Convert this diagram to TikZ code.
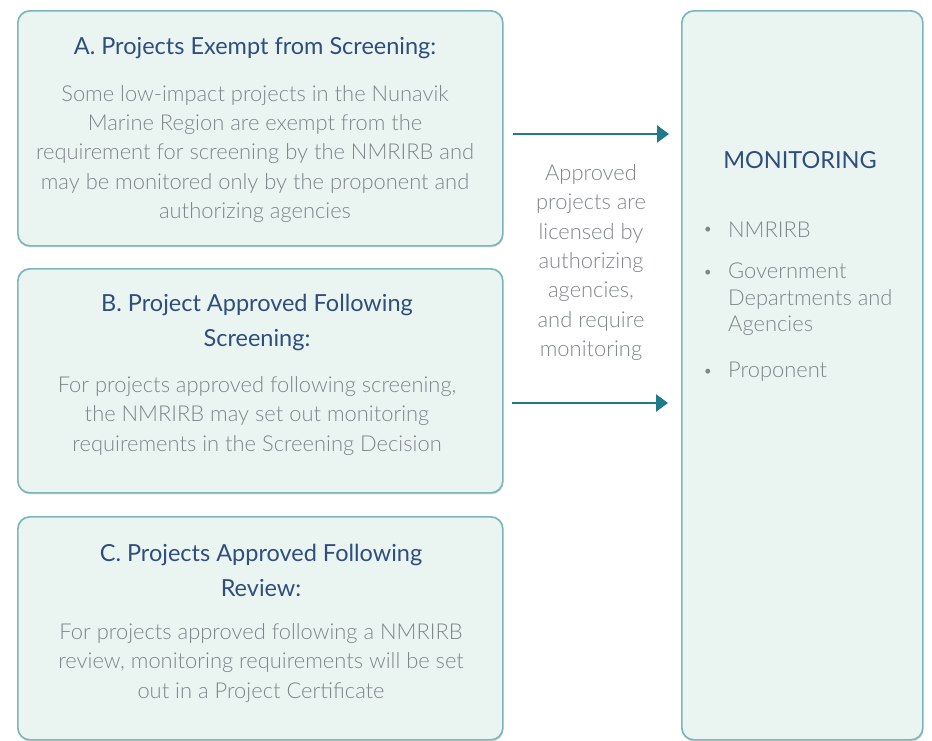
\documentclass[tikz,border=0pt]{standalone}
\usepackage{fontspec}
\setmainfont{Lato}
\newfontfamily\lightfont{Lato Light}
\usetikzlibrary{arrows.meta,shadows}
\definecolor{boxfill}{HTML}{EAF5F2}
\definecolor{boxline}{HTML}{7DB7B9}
\definecolor{headblue}{HTML}{2F4E7E}
\definecolor{bodygray}{HTML}{7F8589}
\definecolor{arrowteal}{HTML}{1F7A8A}
\tikzset{
  box/.style={draw=boxline,fill=boxfill,line width=1.7pt,rounded corners=12pt,anchor=north west,inner sep=0pt,
    drop shadow={opacity=0.3,shadow xshift=0.6pt,shadow yshift=-1.6pt}},
  head/.style={text=headblue,align=center,font=\fontsize{23.5}{35}\selectfont},
  body/.style={text=bodygray,align=center,font=\lightfont\fontsize{21.9}{29.3}\selectfont},
  item/.style={text=bodygray,align=left,anchor=west,inner sep=0pt,font=\lightfont\fontsize{21.9}{26.5}\selectfont},
  dot/.style={text=bodygray,font=\fontsize{13}{13}\selectfont},
  flow/.style={draw=arrowteal,line width=2.4pt,-{Triangle[length=12pt,width=17pt]}}
}
\begin{document}
\begin{tikzpicture}[x=1pt,y=-1pt]
	\useasboundingbox (0,0) rectangle (932,740);
	\node[box,minimum width=485pt,minimum height=235pt] (boxA) at (17,10) {};
	\node[box,minimum width=485pt,minimum height=224pt] (boxB) at (17,268) {};
	\node[box,minimum width=485pt,minimum height=223pt] (boxC) at (17,516) {};
	\node[box,minimum width=241pt,minimum height=729pt] (monitor) at (681,10) {};
	\node[head] (headA) at (255,48) {A. Projects Exempt from Screening:};
	\node[body] (textA) at (255,154) {Some low-impact projects in the Nunavik\\Marine Region are exempt from the\\requirement for screening by the NMRIRB and\\may be monitored only by the proponent and\\authorizing agencies};
	\node[head] (headB) at (257,322.5) {B. Project Approved Following\\Screening:};
	\node[body] (textB) at (257,416) {For projects approved following screening,\\the NMRIRB may set out monitoring\\requirements in the Screening Decision};
	\node[head] (headC) at (261,570) {C. Projects Approved Following\\Review:};
	\node[body] (textC) at (261,663) {For projects approved following a NMRIRB\\review, monitoring requirements will be set\\out in a Project Certificate};
	\node[body] (approved) at (591,262.5) {Approved\\projects are\\licensed by\\authorizing\\agencies,\\and require\\monitoring};
	\node[head] (headM) at (800,160) {MONITORING};
	\node[dot] (dot1) at (708,230) {•};
	\node[item] (item1) at (728,230) {NMRIRB};
	\node[dot] (dot2) at (708,273) {•};
	\node[item] (item2) at (728,299.5) {Government\\Departments and\\Agencies};
	\node[dot] (dot3) at (708,372) {•};
	\node[item] (item3) at (728,372) {Proponent};
	\coordinate (fromA) at (513,134);
	\coordinate (toA) at (669,134);
	\coordinate (fromB) at (512,403);
	\coordinate (toB) at (668,403);
	\draw[flow] (fromA) -- (toA);
	\draw[flow] (fromB) -- (toB);
\end{tikzpicture}
\end{document}
